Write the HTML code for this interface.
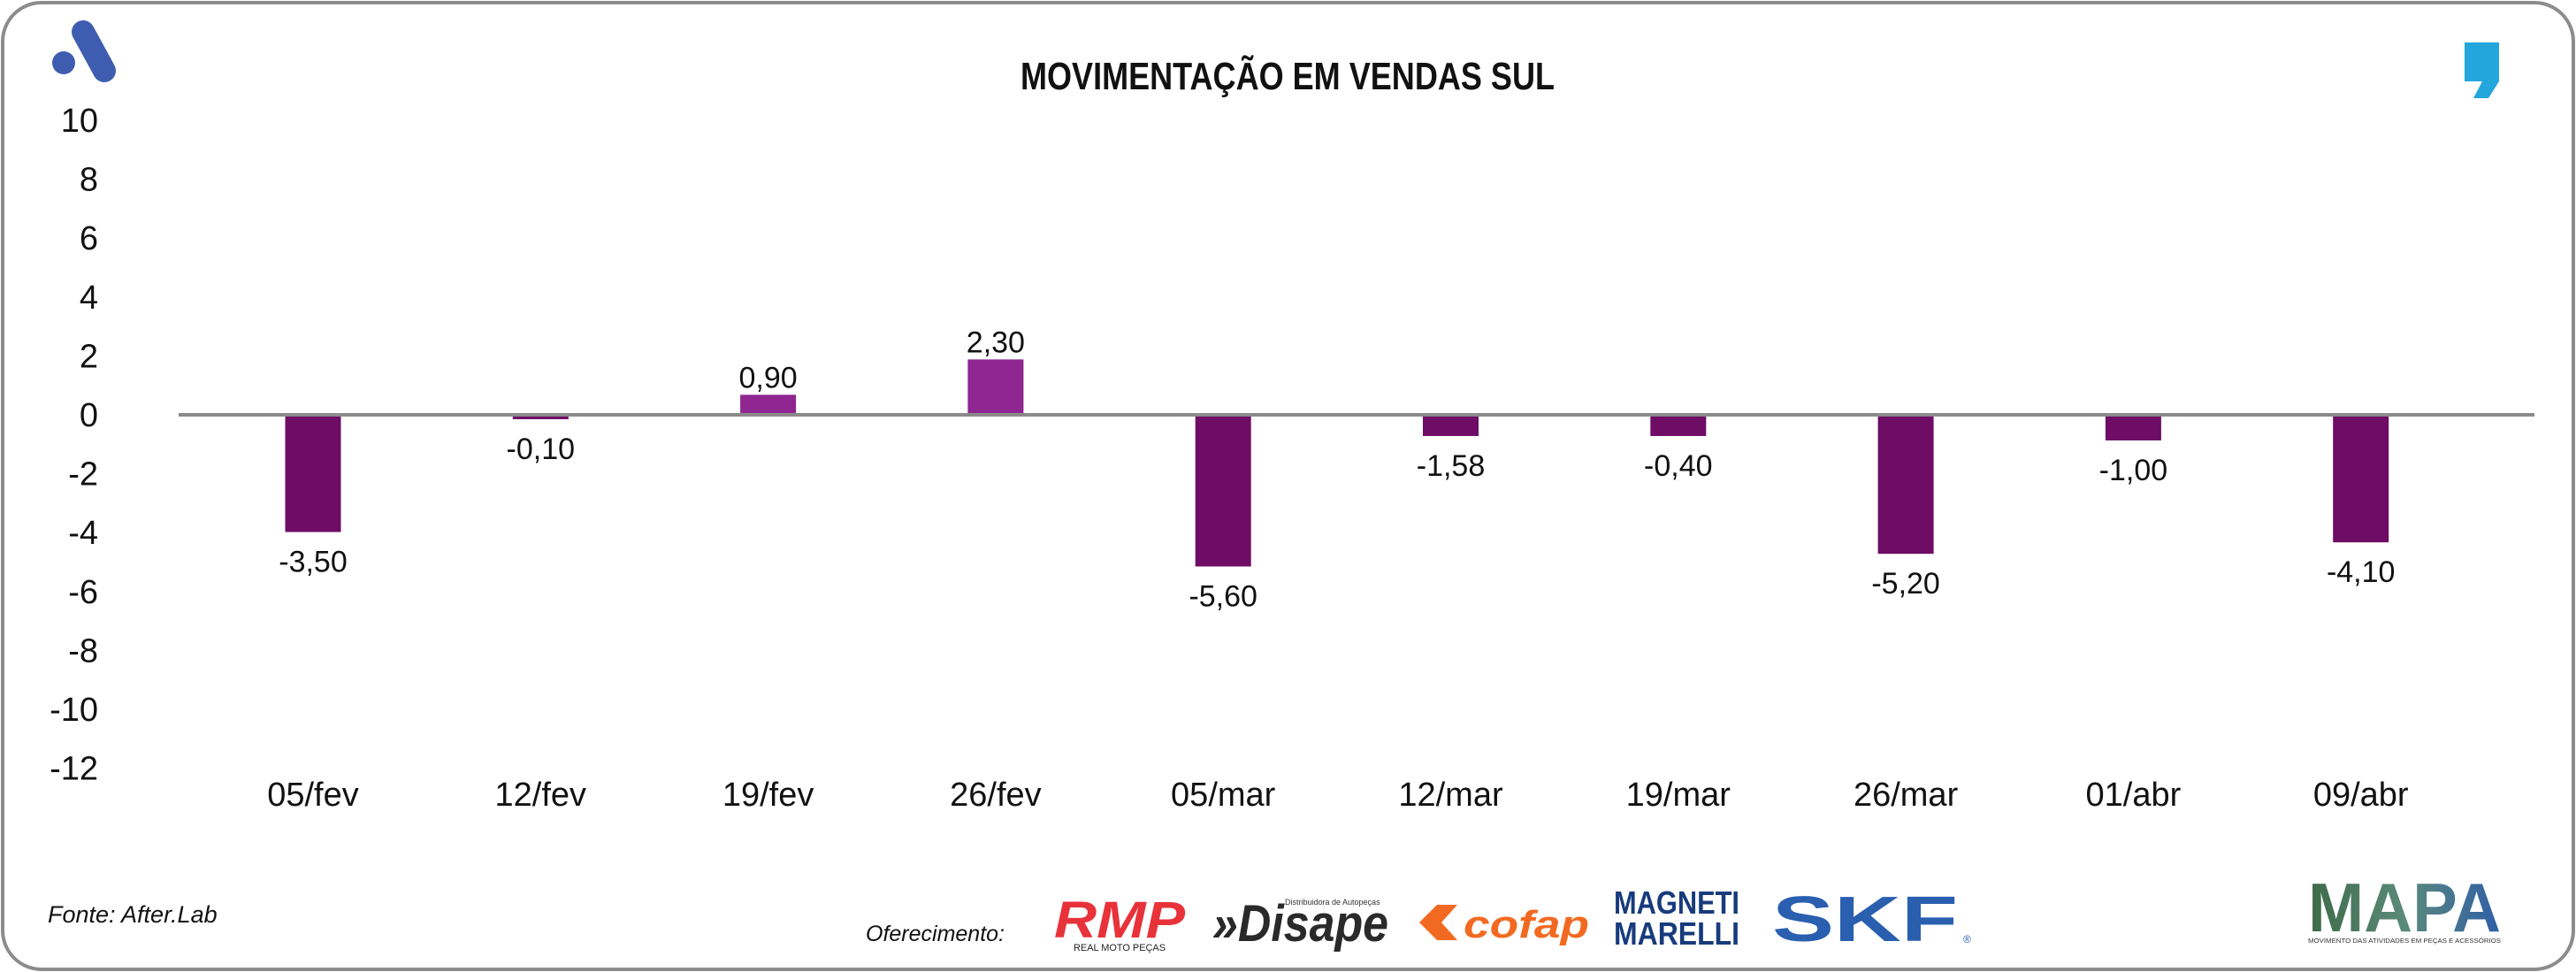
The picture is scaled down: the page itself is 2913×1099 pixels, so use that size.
<!DOCTYPE html>
<html><head><meta charset="utf-8"><style>
html,body{margin:0;padding:0;background:#fff}
svg{display:block}
text{font-family:"Liberation Sans",sans-serif}
</style></head><body>
<svg id="chart" width="2913" height="1099" viewBox="0 0 2913 1099" xmlns="http://www.w3.org/2000/svg">
<rect x="3" y="3" width="2907" height="1093" rx="44" ry="44" fill="#fff" stroke="#8c8c8c" stroke-width="4"/>
<g>
<line x1="94" y1="36" x2="118" y2="80" stroke="#3f5db0" stroke-width="26" stroke-linecap="round"/>
<circle cx="72" cy="71" r="13" fill="#3f5db0"/>
</g>
<path d="M2787 48 H2826 V92 L2814 111 H2797 L2807 92 H2787 Z" fill="#22a6dc"/>
<text x="1456" y="101" text-anchor="middle" font-size="44" font-weight="bold" textLength="604" lengthAdjust="spacingAndGlyphs" fill="#111">MOVIMENTAÇÃO EM VENDAS SUL</text>
<g id="yaxis"></g>
<g id="bars"></g>
<line id="zero" x1="202" x2="2866" stroke="#8a8a8a" stroke-width="4"/>
<g id="labels"></g>
<g id="xaxis"></g>
<text x="54" y="1043" font-size="27" font-style="italic" fill="#111">Fonte: After.Lab</text>
<text x="979" y="1064" font-size="25" font-style="italic" fill="#111">Oferecimento:</text>
<g>
<text x="1266" y="1060" text-anchor="middle" font-size="58" font-weight="bold" font-style="italic" fill="#e8323a" textLength="148" lengthAdjust="spacingAndGlyphs">RMP</text>
<text x="1266" y="1075" text-anchor="middle" font-size="11" fill="#222" textLength="104" lengthAdjust="spacingAndGlyphs">REAL MOTO PEÇAS</text>
</g>
<g>
<text x="1371" y="1064" font-size="58" font-weight="bold" font-style="italic" fill="#2a2a2a" textLength="199" lengthAdjust="spacingAndGlyphs">»Disape</text>
<text x="1453" y="1023" font-size="9" fill="#333">Distribuidora de Autopeças</text>
</g>
<g>
<path d="M1605 1043 L1625 1023 H1648 L1630 1043 L1648 1063 H1625 Z" fill="#f26a21"/>
<text x="1655" y="1060" font-size="44" font-weight="bold" font-style="italic" fill="#f26a21" textLength="142" lengthAdjust="spacingAndGlyphs">cofap</text>
</g>
<g>
<text x="1896" y="1033" text-anchor="middle" font-size="36" font-weight="bold" fill="#173b7c" textLength="142" lengthAdjust="spacingAndGlyphs">MAGNETI</text>
<text x="1896" y="1068" text-anchor="middle" font-size="36" font-weight="bold" fill="#173b7c" textLength="142" lengthAdjust="spacingAndGlyphs">MARELLI</text>
</g>
<g>
<text x="2004" y="1064" font-size="72" font-weight="bold" fill="#2a5fb0" textLength="210" lengthAdjust="spacingAndGlyphs">SKF</text>
<text x="2220" y="1066" font-size="12" fill="#2a5fb0">®</text>
</g>
<g>
<defs><linearGradient id="mg" x1="0" x2="1"><stop offset="0" stop-color="#3d6a48"/><stop offset="0.5" stop-color="#5b8a7a"/><stop offset="1" stop-color="#2f5fa8"/></linearGradient></defs>
<text x="2719" y="1053" text-anchor="middle" font-size="78" font-weight="bold" fill="url(#mg)" textLength="218" lengthAdjust="spacingAndGlyphs">MAPA</text>
<text x="2719" y="1066" text-anchor="middle" font-size="7" fill="#333" textLength="218" lengthAdjust="spacingAndGlyphs">MOVIMENTO DAS ATIVIDADES EM PEÇAS E ACESSÓRIOS</text>
</g>
</svg>
<script>
const categories = ["05/fev","12/fev","19/fev","26/fev","05/mar","12/mar","19/mar","26/mar","01/abr","09/abr"];
const values = [-3.98, -0.15, 0.68, 1.88, -5.15, -0.72, -0.72, -4.72, -0.87, -4.33];
const valueLabels = ["-3,50","-0,10","0,90","2,30","-5,60","-1,58","-0,40","-5,20","-1,00","-4,10"];
const yTicks = [10,8,6,4,2,0,-2,-4,-6,-8,-10,-12];

const NS = "http://www.w3.org/2000/svg";
const y0px = 469, unit = 33.3;
function y(v){ return y0px - v*unit; }
function x(i){ return 354 + i*257.3; }
const barW = 63;
function mk(tag, attrs, parent, txt){
  const e = document.createElementNS(NS, tag);
  for (const k in attrs) e.setAttribute(k, attrs[k]);
  if (txt !== undefined) e.textContent = txt;
  parent.appendChild(e); return e;
}
const yg = document.getElementById('yaxis');
yTicks.forEach(t => {
  const e = mk('text', {x:111, y:y(t)+13, 'text-anchor':'end', 'font-size':38, fill:'#111'}, yg, String(t));
  
  
});
document.getElementById('zero').setAttribute('y1', y(0));
document.getElementById('zero').setAttribute('y2', y(0));
const bg = document.getElementById('bars'), lg = document.getElementById('labels'), xg = document.getElementById('xaxis');
values.forEach((v, i) => {
  const top = Math.min(y(v), y(0)), h = Math.abs(y(v) - y(0));
  const r = mk('rect', {x:x(i)-barW/2, y:top, width:barW, height:h, fill: v >= 0 ? '#8e2590' : '#6e0c66'}, bg);
  
  
  const ly = v >= 0 ? y(v) - 8 : y(v) + 45;
  const t = mk('text', {x:x(i), y:ly, 'text-anchor':'middle', 'font-size':34, fill:'#111'}, lg, valueLabels[i]);
  
  
  const c = mk('text', {x:x(i), y:911, 'text-anchor':'middle', 'font-size':38, fill:'#111'}, xg, categories[i]);
  
  
});
</script>
</body></html>
